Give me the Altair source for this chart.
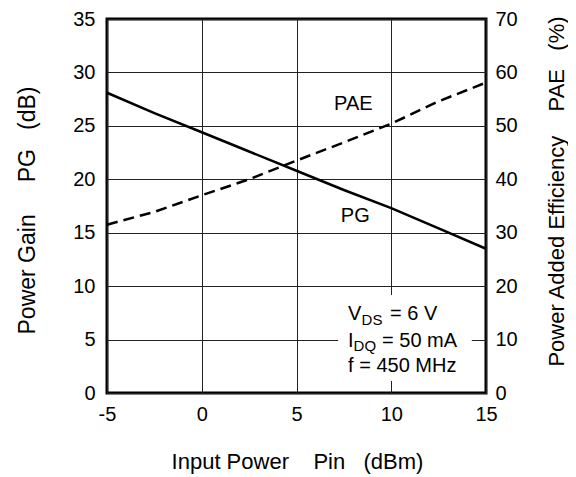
import altair as alt
import pandas as pd

FONT = "Liberation Sans"
NB = "\u00a0"

# ---- data ----
pin_dbm = [-5, -2.5, 0, 2.5, 5, 7.5, 10, 12.5, 15]
pg_db = [28.1, 26.2, 24.4, 22.6, 20.8, 19.0, 17.3, 15.4, 13.5]
pae_pct = [31.5, 33.9, 37.0, 40.0, 43.5, 46.9, 50.4, 54.6, 58.1]

x_ticks = [-5, 0, 5, 10, 15]
pg_ticks = [0, 5, 10, 15, 20, 25, 30, 35]
pae_ticks = [0, 10, 20, 30, 40, 50, 60, 70]

series_names = ["PAE", "PG"]
series_label_x = [8.0, 8.1]
series_label_y = [27.0, 16.6]

# condition box (white background behind the conditions text)
box_x = [7.2]
box_x2 = [14.25]
box_y = [1.12]
box_y2 = [9.17]

# conditions text segments: text, line, dx (px), dy (px), font size
cond_text = ["V", "DS", "= 6 V", "I", "DQ", "= 50 mA", "f = 450 MHz"]
cond_line_y = [6.83, 6.83, 6.83, 4.30, 4.30, 4.30, 1.97]
cond_dx = [0, 13.5, 42, 0, 5.5, 34, 0]
cond_dy = [0, 5, 0, 0, 4, 0, 0]
cond_size = [20, 15, 20, 20, 15, 20, 20]
cond_x = 7.72

x_title = "Input Power" + NB * 4 + "Pin" + NB * 3 + "(dBm)"
left_title = "Power Gain" + NB * 5 + "PG" + NB * 3 + "(dB)"
right_title = "Power Added Efficiency" + NB * 4 + "PAE" + NB * 3 + "(%)"

df = pd.DataFrame({"pin": pin_dbm, "pg": pg_db, "pae": pae_pct})
lab = pd.DataFrame({"pin": series_label_x, "pg": series_label_y, "name": series_names})
box = pd.DataFrame({"pin": box_x, "pin2": box_x2, "pg": box_y, "pg2": box_y2})

x_axis = alt.Axis(
    values=x_ticks, title=x_title, grid=True, gridColor="#222",
    gridWidth=1, ticks=False, domain=False, labelFlush=False, labelFont=FONT,
    labelFontSize=20, labelColor="black", labelPadding=11, titleFont=FONT,
    labelExpr="'' + datum.value",
    titleFontSize=22, titleFontWeight="normal", titleColor="black",
    titleX=190, titleY=75, titleBaseline="alphabetic", titleAlign="center",
)
x_scale = alt.Scale(domain=[-5, 15], nice=False, zero=False)

left_axis = alt.Axis(
    values=pg_ticks, title=left_title, grid=True, gridColor="#222",
    gridWidth=1, ticks=False, domain=False, labelFont=FONT, labelFontSize=20,
    labelColor="black", labelPadding=12, titleFont=FONT, titleFontSize=23,
    titleFontWeight="normal", titleColor="black", titleAngle=270, titleX=-73,
    titleY=191, titleBaseline="alphabetic", titleAlign="center",
)
left_scale = alt.Scale(domain=[0, 35], nice=False)

right_axis = alt.Axis(
    values=pae_ticks, title=right_title, orient="right",
    grid=False, ticks=False, domain=False, labelFont=FONT, labelFontSize=20,
    labelColor="black", labelPadding=9, titleFont=FONT, titleFontSize=22,
    titleFontWeight="normal", titleColor="black", titleAngle=270, titleX=77,
    titleY=172, titleBaseline="alphabetic", titleAlign="center",
)
right_scale = alt.Scale(domain=[0, 70], nice=False)


def X(field="pin"):
    return alt.X(f"{field}:Q", scale=x_scale, axis=x_axis)


def YL(field="pg"):
    return alt.Y(f"{field}:Q", scale=left_scale, axis=left_axis)


pg_line = alt.Chart(df).mark_line(color="black", strokeWidth=2.5).encode(x=X(), y=YL())

white_box = alt.Chart(box).mark_rect(color="white").encode(
    x=X(), x2="pin2:Q", y=YL(), y2="pg2:Q"
)

series_labels = alt.Chart(lab).mark_text(
    font=FONT, fontSize=20, color="black", align="center", baseline="middle"
).encode(x=X(), y=YL(), text="name:N")

cond_layers = []
for t, yv, dx, dy, sz in zip(cond_text, cond_line_y, cond_dx, cond_dy, cond_size):
    d = pd.DataFrame({"pin": [cond_x], "pg": [yv], "t": [t]})
    cond_layers.append(
        alt.Chart(d).mark_text(
            font=FONT, fontSize=sz, color="black", align="left",
            baseline="alphabetic", dx=dx, dy=dy
        ).encode(x=X(), y=YL(), text="t:N")
    )

left = alt.layer(white_box, pg_line, series_labels, *cond_layers)

pae_line = alt.Chart(df).mark_line(
    color="black", strokeWidth=2.5, strokeDash=[11, 6]
).encode(x=X(), y=alt.Y("pae:Q", scale=right_scale, axis=right_axis))

chart = alt.layer(left, pae_line).resolve_scale(y="independent").properties(
    width=379, height=374, autosize="none",
    padding={"left": 99, "top": 11, "right": 82, "bottom": 82},
    background="white",
).configure_view(stroke="black", strokeWidth=3)

chart.save("out.html", embed_options={"renderer": "svg", "actions": False})
